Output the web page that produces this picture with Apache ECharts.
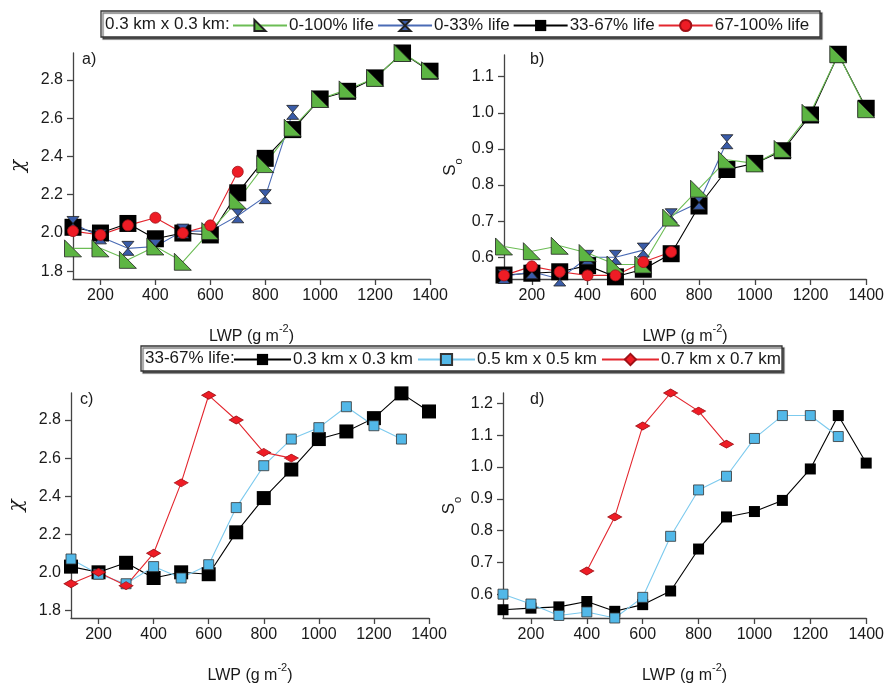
<!DOCTYPE html>
<html>
<head>
<meta charset="utf-8">
<script src="https://cdn.jsdelivr.net/npm/echarts@6/dist/echarts.min.js"></script>
<style>
  html, body { margin: 0; padding: 0; background: #fff; }
  #chart { width: 887px; height: 685px; }
</style>
</head>
<body>
<div id="chart"></div>
<script>
// LWP bins (g m-2)
var lwp = [100, 200, 300, 400, 500, 600, 700, 800, 900, 1000, 1100, 1200, 1300, 1400];

// a) chi, 0.3 km x 0.3 km
var chiLife0to100 = [1.92, 1.92, 1.86, 1.93, 1.85, 2.01, 2.17, 2.36, 2.55, 2.70, 2.75, 2.81, 2.94, 2.85];
var chiLife0to33 = [2.05, 1.98, 1.92, 1.93, 2.01, 2.01, 2.09, 2.19, 2.63];
var chiLife33to67 = [2.03, 2.00, 2.05, 1.97, 2.00, 1.99, 2.21, 2.39, 2.54, 2.70, 2.74, 2.81, 2.94, 2.845];
var chiLife67to100 = [2.01, 1.99, 2.04, 2.08, 2.00, 2.04, 2.32];

// b) So, 0.3 km x 0.3 km
var soLife0to100 = [0.63, 0.617, 0.632, 0.612, 0.58, 0.58, 0.71, 0.79, 0.87, 0.86, 0.90, 1.00, 1.162, 1.01];
var soLife0to33 = [0.547, 0.56, 0.54, 0.60, 0.60, 0.62, 0.715, 0.752, 0.92];
var soLife33to67 = [0.551, 0.556, 0.56, 0.577, 0.546, 0.567, 0.61, 0.742, 0.843, 0.86, 0.895, 0.994, 1.162, 1.0125];
var soLife67to100 = [0.55, 0.575, 0.56, 0.55, 0.55, 0.587, 0.615];

// c) chi, 33-67% life, by resolution
var chiRes05 = [2.07, 1.99, 1.94, 2.03, 1.97, 2.04, 2.34, 2.56, 2.70, 2.76, 2.87, 2.77, 2.70];
var chiRes07 = [1.94, 2.00, 1.93, 2.10, 2.47, 2.93, 2.80, 2.63, 2.60];

// d) So, 33-67% life, by resolution
var soRes05 = [0.60, 0.569, 0.533, 0.544, 0.525, 0.59, 0.782, 0.928, 0.971, 1.09, 1.162, 1.162, 1.096];
var soRes07 = [null, null, null, 0.673, 0.843, 1.129, 1.233, 1.176, 1.072];

// tick labels
var xTicks = [200, 400, 600, 800, 1000, 1200, 1400];
var chiTicks = [1.8, 2.0, 2.2, 2.4, 2.6, 2.8];
var soTicksB = [0.6, 0.7, 0.8, 0.9, 1.0, 1.1];
var soTicksD = [0.6, 0.7, 0.8, 0.9, 1.0, 1.1, 1.2];

var FONT = 'Liberation Sans, Arial, sans-serif';
var TXT = '#1a1a1a';
var AX = '#444';

// marker shapes
var TRI = 'path://M0,0 L0,10 L10,10 Z';
var HOUR = 'path://M0,0 L10,0 L0,10 L10,10 Z';
var DIAM = 'path://M0,4 L7,0 L14,4 L7,8 Z';

function pairs(vals) {
  var out = [];
  vals.forEach(function (v, i) {
    if (v != null) out.push([lwp[i], v]);
  });
  return out;
}

function xAxis(gi) {
  return {
    type: 'value', gridIndex: gi, min: 100, max: 1400,
    axisLine: { show: true, onZero: false, lineStyle: { color: AX, width: 1.3 } },
    axisTick: { show: true, inside: false, length: 6, customValues: xTicks, lineStyle: { color: AX, width: 1.3 } },
    axisLabel: {
      customValues: xTicks, color: TXT, fontSize: 16, fontFamily: FONT, margin: 9,
      formatter: function (v) { return String(v); }
    },
    splitLine: { show: false },
    name: '{m|LWP (g m}{s|-2}{m|)}',
    nameLocation: 'middle', nameGap: 44,
    nameTextStyle: {
      rich: {
        m: { fontSize: 16, fontFamily: FONT, color: TXT, lineHeight: 22, verticalAlign: 'bottom' },
        s: { fontSize: 11, fontFamily: FONT, color: TXT, lineHeight: 22, verticalAlign: 'top' }
      }
    }
  };
}

function yAxis(gi, min, max, ticks, isChi) {
  return {
    type: 'value', gridIndex: gi, min: min, max: max,
    axisLine: { show: true, onZero: false, lineStyle: { color: AX, width: 1.3 } },
    axisTick: { show: true, inside: false, length: 6, customValues: ticks, lineStyle: { color: AX, width: 1.3 } },
    axisLabel: {
      customValues: ticks, color: TXT, fontSize: 16, fontFamily: FONT, margin: 10,
      formatter: function (v) { return v.toFixed(1); }
    },
    splitLine: { show: false },
    name: isChi ? '{c|\u03c7}' : '{m|S}{s|o}',
    nameLocation: 'middle', nameRotate: 90, nameGap: isChi ? 44 : 40,
    nameTextStyle: {
      rich: {
        c: { fontSize: 20, fontFamily: 'DejaVu Serif, serif', fontStyle: 'italic', color: TXT },
        m: { fontSize: 17, fontFamily: FONT, color: TXT, lineHeight: 22, verticalAlign: 'top' },
        s: { fontSize: 11, fontFamily: FONT, color: TXT, lineHeight: 22, verticalAlign: 'bottom' }
      }
    }
  };
}

function series(name, gi, vals, fill, lineColor, symbol, size, border) {
  return {
    name: name, type: 'line', xAxisIndex: gi, yAxisIndex: gi,
    data: pairs(vals),
    symbol: symbol, symbolSize: size, showSymbol: true, clip: false,
    lineStyle: { color: lineColor, width: 1.1 },
    itemStyle: { color: fill, borderColor: border || '#222', borderWidth: border === 'none' ? 0 : 0.8 },
    emphasis: { disabled: true },
    animation: false
  };
}

var GREEN = '#5db543', GREEN_L = '#6cbd55';
var BLUE = '#3a5ca8', BLUE_L = '#4a6bb5';
var RED = '#ee1c25', RED_L = '#e3262e';
var CYAN = '#52b8e8', CYAN_L = '#7ccaee';

var option = {
  backgroundColor: '#fff',
  animation: false,
  textStyle: { fontFamily: FONT },
  grid: [
    { left: 73, top: 53, width: 357, height: 226 },
    { left: 504, top: 55, width: 364, height: 224 },
    { left: 71, top: 393, width: 358, height: 227 },
    { left: 503, top: 393, width: 365, height: 227 }
  ],
  xAxis: [xAxis(0), xAxis(1), xAxis(2), xAxis(3)],
  yAxis: [
    yAxis(0, 1.76, 2.94, chiTicks, true),
    yAxis(1, 0.54, 1.16, soTicksB, false),
    yAxis(2, 1.76, 2.942, chiTicks, true),
    yAxis(3, 0.525, 1.233, soTicksD, false)
  ],
  legend: [
    {
      left: 232, top: 17, padding: 0, itemWidth: 54, itemHeight: 14, itemGap: 3,
      data: ['0-100% life', '0-33% life', '33-67% life', '67-100% life'],
      textStyle: { fontSize: 17, fontFamily: FONT, color: TXT, padding: [0, 0, 0, -3] },
      selectedMode: false
    },
    {
      left: 233, top: 351, padding: 0, itemWidth: 57, itemHeight: 14, itemGap: 4,
      data: ['0.3 km x 0.3 km', '0.5 km x 0.5 km', '0.7 km x 0.7 km'],
      textStyle: { fontSize: 17, fontFamily: FONT, color: TXT, padding: [0, 0, 0, -3] },
      selectedMode: false
    }
  ],
  graphic: [
    { type: 'rect', z: -1, shape: { x: 101, y: 11, width: 719, height: 26 },
      style: { fill: '#fff', stroke: '#333', lineWidth: 1.3, shadowColor: 'rgba(0,0,0,0.55)', shadowOffsetX: 2, shadowOffsetY: 2, shadowBlur: 1 } },
    { type: 'text', z: 10, x: 105, y: 24,
      style: { text: '0.3 km x 0.3 km:', font: '17px ' + FONT, fill: TXT, verticalAlign: 'middle' } },
    { type: 'rect', z: -1, shape: { x: 141, y: 346, width: 641, height: 25 },
      style: { fill: '#fff', stroke: '#333', lineWidth: 1.3, shadowColor: 'rgba(0,0,0,0.55)', shadowOffsetX: 2, shadowOffsetY: 2, shadowBlur: 1 } },
    { type: 'text', z: 10, x: 145, y: 358,
      style: { text: '33-67% life:', font: '17px ' + FONT, fill: TXT, verticalAlign: 'middle' } },
    { type: 'text', x: 82, y: 60, style: { text: 'a)', font: '16px ' + FONT, fill: TXT, verticalAlign: 'middle' } },
    { type: 'text', x: 530, y: 60, style: { text: 'b)', font: '16px ' + FONT, fill: TXT, verticalAlign: 'middle' } },
    { type: 'text', x: 80, y: 400, style: { text: 'c)', font: '16px ' + FONT, fill: TXT, verticalAlign: 'middle' } },
    { type: 'text', x: 530, y: 400, style: { text: 'd)', font: '16px ' + FONT, fill: TXT, verticalAlign: 'middle' } }
  ],
  series: [
    // a)
    series('33-67% life', 0, chiLife33to67, '#000', '#000', 'rect', 17, 'none'),
    series('0-33% life', 0, chiLife0to33, BLUE, BLUE_L, HOUR, [12, 14]),
    series('0-100% life', 0, chiLife0to100, GREEN, GREEN_L, TRI, 17),
    series('67-100% life', 0, chiLife67to100, RED, RED_L, 'circle', 11, '#a01016'),
    // b)
    series('33-67% life', 1, soLife33to67, '#000', '#000', 'rect', 17, 'none'),
    series('0-33% life', 1, soLife0to33, BLUE, BLUE_L, HOUR, [12, 14]),
    series('0-100% life', 1, soLife0to100, GREEN, GREEN_L, TRI, 17),
    series('67-100% life', 1, soLife67to100, RED, RED_L, 'circle', 11, '#a01016'),
    // c)
    series('0.3 km x 0.3 km', 2, chiLife33to67, '#000', '#000', 'rect', 14, 'none'),
    series('0.5 km x 0.5 km', 2, chiRes05, CYAN, CYAN_L, 'rect', 10, '#333'),
    series('0.7 km x 0.7 km', 2, chiRes07, RED, RED_L, DIAM, [14, 8], '#a01016'),
    // d)
    series('0.3 km x 0.3 km', 3, soLife33to67, '#000', '#000', 'rect', 11, 'none'),
    series('0.5 km x 0.5 km', 3, soRes05, CYAN, CYAN_L, 'rect', 10, '#333'),
    series('0.7 km x 0.7 km', 3, soRes07, RED, RED_L, DIAM, [14, 8], '#a01016')
  ]
};

var myChart = echarts.init(document.getElementById('chart'), null, { renderer: 'canvas' });
myChart.setOption(option);
</script>
</body>
</html>
